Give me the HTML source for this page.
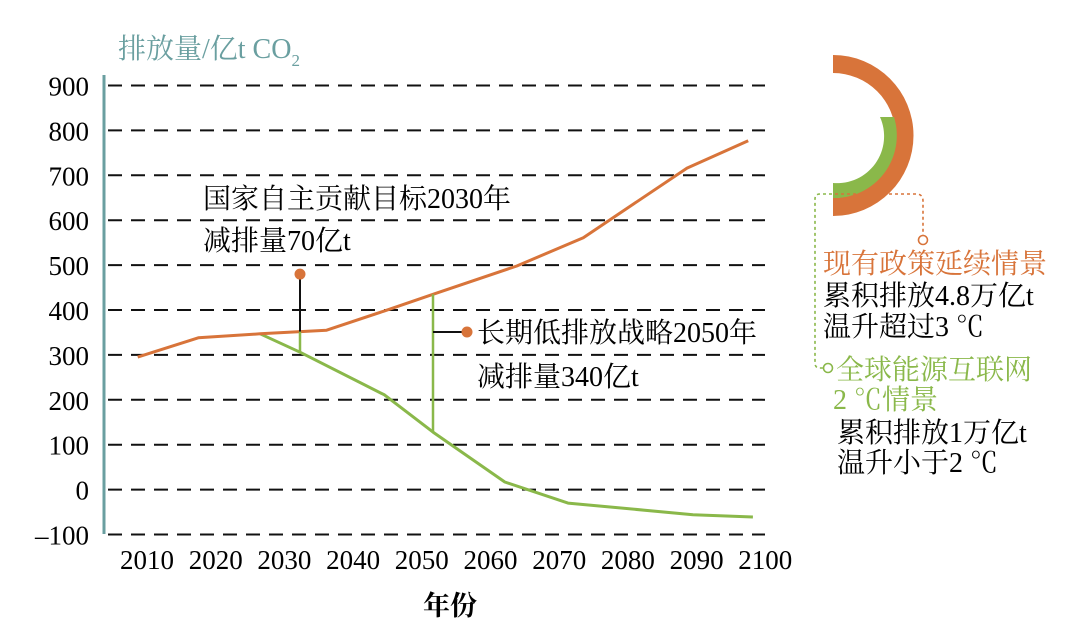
<!DOCTYPE html>
<html><head><meta charset="utf-8">
<style>
html,body{margin:0;padding:0;background:#fff;}
svg{display:block;}
text{font-family:"Liberation Serif","Noto Serif CJK SC","Noto Sans CJK SC",serif;}
</style></head>
<body>
<svg id="chart" width="1080" height="644" viewBox="0 0 1080 644" xmlns="http://www.w3.org/2000/svg">
<text x="118" y="58" font-size="28" fill="#6a9fa0">排放量/亿t CO<tspan font-size="17" dy="8">2</tspan></text>
<line x1="104" y1="75" x2="104" y2="534" stroke="#6a9fa0" stroke-width="3"/>
<g id="grid"></g>
<g id="yticks"></g>
<g id="xticks"></g>
<text x="450" y="615" font-size="27" font-weight="bold" text-anchor="middle">年份</text>
<g id="series"></g>
<g id="annot"></g>

<text x="203" y="208" font-size="28">国家自主贡献目标2030年</text>
<text x="203" y="250" font-size="28">减排量70亿t</text>
<text x="477" y="342" font-size="28">长期低排放战略2050年</text>
<text x="477" y="386" font-size="28">减排量340亿t</text>

<g>
<path d="M833 55 A80.5 80.5 0 0 1 833 216 L833 198 A62.5 62.5 0 0 0 833 73 Z" fill="#d8743a"/>
<path d="M833 198 A62.5 62.5 0 0 0 894 117 L880 117 A47 47 0 0 1 833 183 Z" fill="#8ab84a"/>
<path d="M835 194 L916 194 Q923 194 923 201 L923 235" fill="none" stroke="#d8743a" stroke-width="1.6" stroke-dasharray="3,3"/>
<circle cx="923" cy="240" r="4.5" fill="#fff" stroke="#d8743a" stroke-width="1.6"/>
<path d="M832 194 L820 194 Q815 194 815 199 L815 363 Q815 368 820 368 L823 368" fill="none" stroke="#8ab84a" stroke-width="1.6" stroke-dasharray="3,3"/>
<circle cx="828" cy="368" r="4.5" fill="#fff" stroke="#8ab84a" stroke-width="1.6"/>
</g>
<text x="823" y="273" font-size="28" fill="#d8743a">现有政策延续情景</text>
<text x="823" y="305" font-size="28">累积排放4.8万亿t</text>
<text x="823" y="336" font-size="28">温升超过3 ℃</text>
<text x="836" y="379" font-size="28" fill="#8ab84a">全球能源互联网</text>
<text x="833" y="409" font-size="28" fill="#8ab84a">2 ℃情景</text>
<text x="837" y="442" font-size="28">累积排放1万亿t</text>
<text x="837" y="472" font-size="28">温升小于2 ℃</text>
</svg>
<script>
const yTicks = [900,800,700,600,500,400,300,200,100,0,-100];
const yTickLabels = ["900","800","700","600","500","400","300","200","100","0","\u2013100"];
const xTickLabels = ["2010","2020","2030","2040","2050","2060","2070","2080","2090","2100"];
const currentYears = [2005.6,2014.7,2024,2034,2042.7,2050,2062.6,2072.6,2088.2,2097.4];
const currentValues = [295,338,347,355,398,435,498,561,716,777];
const geiYears = [2024,2030,2042.7,2050,2060.8,2070.3,2089.1,2098.1];
const geiValues = [347,306,211,128,17,-30,-56,-61];
const annotYears = [2030,2050];
const annotTop = [480,435];

const NS="http://www.w3.org/2000/svg";
function ys(v){return 489.6 - v*0.449;}
function xs(yr){return 300 + (yr-2030)*6.65;}
function xl(i){return 147 + i*68.7;}
function mk(tag,attrs,parent){const e=document.createElementNS(NS,tag);for(const k in attrs)e.setAttribute(k,attrs[k]);parent.appendChild(e);return e;}
const grid=document.getElementById('grid'),yt=document.getElementById('yticks'),xt=document.getElementById('xticks');
yTicks.forEach((v,i)=>{
  const l=mk('line',{x1:108,x2:765,y1:ys(v),y2:ys(v),stroke:'#111','stroke-width':2,'stroke-dasharray':'14,9'},grid);
  
  
  const t=mk('text',{x:89,y:ys(v)+10,'font-size':27,'text-anchor':'end'},yt);
  t.textContent=yTickLabels[i];
  
  
});
xTickLabels.forEach((s,i)=>{
  const t=mk('text',{x:xl(i),y:569,'font-size':27,'text-anchor':'middle'},xt);
  t.textContent=s;
  
  
});
const ser=document.getElementById('series');
function pts(xsArr,vs){return xsArr.map((y,i)=>xs(y).toFixed(1)+','+ys(vs[i]).toFixed(1)).join(' ');}
const an=document.getElementById('annot');
function interp(xa,va,yr){for(let i=0;i<xa.length-1;i++){if(yr>=xa[i]&&yr<=xa[i+1]){return va[i]+(va[i+1]-va[i])*(yr-xa[i])/(xa[i+1]-xa[i]);}}return va[va.length-1];}
const c30=interp(currentYears,currentValues,annotYears[0]), g30=interp(geiYears,geiValues,annotYears[0]);
const c50=interp(currentYears,currentValues,annotYears[1]), g50=interp(geiYears,geiValues,annotYears[1]);
let e;
e=mk('line',{x1:xs(annotYears[0]),x2:xs(annotYears[0]),y1:ys(annotTop[0]),y2:ys(c30),stroke:'#111','stroke-width':2},an);


e=mk('line',{x1:xs(annotYears[0]),x2:xs(annotYears[0]),y1:ys(c30),y2:ys(g30),stroke:'#8ab84a','stroke-width':2.5},an);


e=mk('circle',{cx:xs(annotYears[0]),cy:ys(annotTop[0]),r:5.5,fill:'#d8743a'},an);


e=mk('line',{x1:xs(annotYears[1]),x2:xs(annotYears[1]),y1:ys(c50),y2:ys(g50),stroke:'#8ab84a','stroke-width':2.5},an);


e=mk('line',{x1:xs(annotYears[1]),x2:467,y1:332,y2:332,stroke:'#111','stroke-width':2},an);


e=mk('circle',{cx:467,cy:332,r:5.5,fill:'#d8743a'},an);


e=mk('polyline',{points:pts(geiYears,geiValues),fill:'none',stroke:'#8ab84a','stroke-width':3,'stroke-linejoin':'round'},ser);


e=mk('polyline',{points:pts(currentYears,currentValues),fill:'none',stroke:'#d8743a','stroke-width':3,'stroke-linejoin':'round'},ser);


</script>
</body></html>
